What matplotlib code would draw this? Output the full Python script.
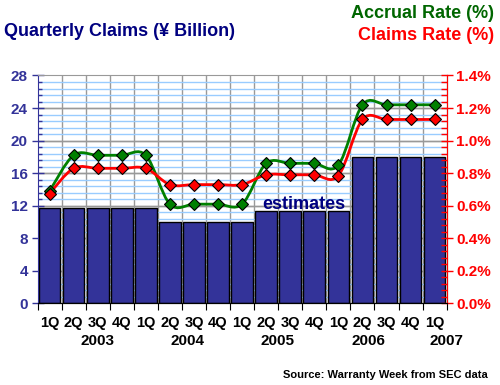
import numpy as np
import matplotlib
matplotlib.use('Agg')
import matplotlib.pyplot as plt
from matplotlib.path import Path
from matplotlib.patches import PathPatch
from matplotlib.ticker import MultipleLocator, FuncFormatter

plt.rcParams['font.family'] = ['Liberation Sans', 'DejaVu Sans']

quarters = ['1Q', '2Q', '3Q', '4Q', '1Q', '2Q', '3Q', '4Q', '1Q',
            '2Q', '3Q', '4Q', '1Q', '2Q', '3Q', '4Q', '1Q']
years = ['2003', '2004', '2005', '2006', '2007']
year_pos = [2.0, 5.74, 9.49, 13.24, 16.47]
claims = [11.7, 11.7, 11.7, 11.7, 11.7, 10.0, 10.0, 10.0, 10.0,
          11.3, 11.3, 11.3, 11.3, 18.0, 18.0, 18.0, 18.0]
accrual_rate = [0.69, 0.91, 0.91, 0.91, 0.91, 0.61, 0.61, 0.61, 0.61,
                0.86, 0.86, 0.86, 0.85, 1.22, 1.22, 1.22, 1.22]
claims_rate = [0.675, 0.83, 0.83, 0.83, 0.83, 0.73, 0.73, 0.73, 0.73,
               0.79, 0.79, 0.79, 0.785, 1.13, 1.13, 1.13, 1.13]

NAVY = '#333399'
GREEN = '#008000'
RED = '#ff0000'


def smooth_path(x, y):
    # Catmull-Rom style smoothing drawn as bezier segments
    pts = np.column_stack([x, y]).astype(float)
    verts = [pts[0]]
    codes = [Path.MOVETO]
    n = len(pts)
    for i in range(n - 1):
        p0 = pts[max(i - 1, 0)]
        p1 = pts[i]
        p2 = pts[i + 1]
        p3 = pts[min(i + 2, n - 1)]
        verts += [p1 + (p2 - p0) / 6, p2 - (p3 - p1) / 6, p2]
        codes += [Path.CURVE4] * 3
    return Path(verts, codes)


fig = plt.figure(figsize=(5, 3.85), dpi=100)
ax = fig.add_axes([0.075, 0.2117, 0.8184, 0.5922])
x = np.arange(len(claims))

ax.bar(x, claims, width=0.9, color=NAVY, edgecolor='black', linewidth=1, zorder=2)
ax.set_xlim(-0.5, len(claims) - 0.5)
ax.set_ylim(0, 28)

# grid
ax.set_axisbelow(True)
for b in np.arange(0.5, len(claims) - 0.5):
    ax.axvline(b, color='#999999', lw=1, zorder=0)
for v in np.arange(0.8, 28, 0.8):
    if abs(v / 4 - round(v / 4)) < 1e-6:
        ax.axhline(v, color='#999999', lw=1, zorder=0)
    else:
        ax.axhline(v, color='#99ccff', lw=1, zorder=0)
for v in range(4, 28, 4):
    ax.axhline(v, color='#999999', lw=1, zorder=0.5)

ax.yaxis.set_major_locator(MultipleLocator(4))
ax.yaxis.set_minor_locator(MultipleLocator(0.8))
ax.tick_params(axis='y', which='major', direction='inout', length=8, width=1,
               color=NAVY, labelcolor=NAVY, labelsize=11, pad=3)
ax.tick_params(axis='y', which='minor', direction='in', length=3, width=1, color=NAVY)
for lab in ax.get_yticklabels():
    lab.set_fontweight('bold')

ax.set_xticks(np.arange(-0.5, len(claims)))
ax.set_xticklabels([])
ax.set_xticks(x, minor=True)
ax.set_xticklabels(quarters, minor=True, fontsize=10.5, fontweight='bold')
ax.tick_params(axis='x', which='major', direction='out', length=5, color='black')
ax.tick_params(axis='x', which='minor', length=0, pad=9)
for yr, xp in zip(years, year_pos):
    ax.text(xp, -0.165, yr, transform=ax.get_xaxis_transform(), ha='center',
            va='center', fontsize=11, fontweight='bold')

ax.spines['left'].set_color(NAVY)
ax.spines['top'].set_color('#999999')
ax.spines['bottom'].set_color('black')

ax2 = ax.twinx()
ax2.set_ylim(0, 1.4)
ax2.yaxis.set_major_locator(MultipleLocator(0.2))
ax2.yaxis.set_minor_locator(MultipleLocator(0.04))
ax2.yaxis.set_major_formatter(FuncFormatter(lambda v, p: '%.1f%%' % v))
ax2.tick_params(axis='y', which='major', direction='inout', length=8, width=1,
                color=RED, labelcolor=RED, labelsize=11, pad=3)
ax2.tick_params(axis='y', which='minor', direction='in', length=4, width=1, color=RED)
for lab in ax2.get_yticklabels():
    lab.set_fontweight('bold')
ax2.spines['right'].set_color(RED)
ax2.spines['left'].set_visible(False)
ax2.spines['top'].set_visible(False)

for series, col in [(accrual_rate, GREEN), (claims_rate, RED)]:
    ax2.add_patch(PathPatch(smooth_path(x, series), facecolor='none',
                            edgecolor=col, lw=2, zorder=3))
    ax2.plot(x, series, linestyle='none', marker='D', markersize=6.5,
             markerfacecolor=col, markeredgecolor='black', markeredgewidth=0.8, zorder=4)

ax2.text(10.55, 12.1 / 20, 'estimates', ha='center', va='center', fontsize=13,
         fontweight='bold', color='#000080', zorder=5)

fig.text(0.008, 1 - 31 / 385, 'Quarterly Claims (\u00a5 Billion)', ha='left',
         va='center', fontsize=13, fontweight='bold', color='#000080')
fig.text(0.988, 1 - 13 / 385, 'Accrual Rate (%)', ha='right', va='center',
         fontsize=13, fontweight='bold', color='#006600')
fig.text(0.988, 1 - 36 / 385, 'Claims Rate (%)', ha='right', va='center',
         fontsize=13, fontweight='bold', color=RED)
fig.text(0.975, 1 - 375 / 385, 'Source: Warranty Week from SEC data', ha='right',
         va='center', fontsize=8, fontweight='bold', color='black')

fig.savefig('out.png', dpi=100)
